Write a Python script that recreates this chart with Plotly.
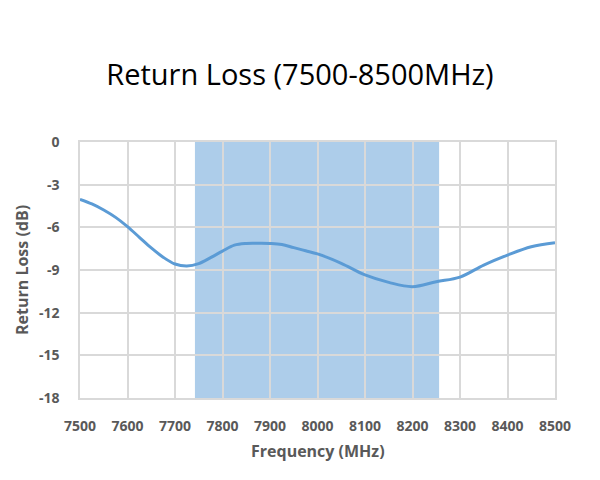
import plotly.graph_objects as go

freq_mhz = [7500, 7525, 7550, 7575, 7600, 7625, 7650, 7675, 7700, 7725, 7750, 7775,
            7800, 7825, 7850, 7875, 7900, 7925, 7950, 7975, 8000, 8050, 8100, 8150,
            8200, 8250, 8300, 8350, 8400, 8450, 8500]
return_loss_db = [-4.03, -4.35, -4.78, -5.3, -5.95, -6.7, -7.45, -8.1, -8.58, -8.72, -8.55, -8.13,
                  -7.67, -7.25, -7.13, -7.12, -7.13, -7.2, -7.43, -7.65, -7.87, -8.53, -9.35, -9.87,
                  -10.17, -9.82, -9.5, -8.65, -7.95, -7.36, -7.08]
band_mhz = [7742, 8256]
x_ticks = [7500, 7600, 7700, 7800, 7900, 8000, 8100, 8200, 8300, 8400, 8500]
y_ticks = [0, -3, -6, -9, -12, -15, -18]

W, H = 600, 480
ml, mr, mt, mb = 80, 45, 142, 82
ph = H - mt - mb
pw = W - ml - mr

tick_font = dict(family="Open Sans", size=14, color="#595959", weight="bold")
grid = "#d9d9d9"

fig = go.Figure()
fig.add_trace(go.Scatter(
    x=freq_mhz, y=return_loss_db, mode="lines",
    line=dict(color="#5B9BD5", width=3, shape="spline", smoothing=1.0),
    hoverinfo="skip", showlegend=False))

fig.add_shape(type="rect", xref="x", yref="paper", x0=band_mhz[0], x1=band_mhz[1],
              y0=0, y1=1, fillcolor="rgba(91,155,213,0.5)", line_width=0, layer="between")

fig.update_layout(
    width=W, height=H,
    margin=dict(l=ml, r=mr, t=mt, b=mb),
    paper_bgcolor="white", plot_bgcolor="white",
    title=dict(text="Return Loss (7500-8500MHz)", x=0.5, xanchor="center",
               y=1 - 75 / H, yanchor="middle", yref="container",
               font=dict(family="Open Sans", size=29, color="#000000")),
    xaxis=dict(range=[7500, 8500], tickvals=x_ticks, ticktext=[str(v) for v in x_ticks],
               showgrid=True, gridcolor=grid, gridwidth=1.5,
               showline=True, linecolor=grid, linewidth=1.5, mirror=True,
               zeroline=False, ticks="", tickfont=tick_font, ticklabelstandoff=14),
    yaxis=dict(range=[-18, 0], tickvals=y_ticks, ticktext=[str(v) for v in y_ticks],
               showgrid=True, gridcolor=grid, gridwidth=1.5,
               showline=True, linecolor=grid, linewidth=1.5, mirror=True,
               zeroline=False, ticks="", tickfont=tick_font, ticklabelstandoff=16),
    annotations=[
        dict(text="Frequency (MHz)", xref="paper", yref="paper", x=0.5,
             y=-(451 - (H - mb)) / ph, yanchor="middle",
             showarrow=False, font=dict(family="Open Sans", size=16, color="#595959", weight="bold")),
        dict(text="Return Loss (dB)", xref="paper", yref="paper",
             x=(22 - ml) / pw, xanchor="center", y=0.5, yanchor="middle", textangle=-90,
             showarrow=False, font=dict(family="Open Sans", size=16, color="#595959", weight="bold")),
    ],
)

fig.write_html("out.html")
